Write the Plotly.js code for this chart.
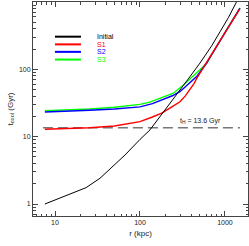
<!DOCTYPE html>
<html>
<head>
<meta charset="utf-8">
<script src="https://cdn.plot.ly/plotly-3.0.1.min.js"></script>
<style>html,body{margin:0;padding:0;background:#fff;}#chart{width:249px;height:246px;}</style>
</head>
<body>
<div id="chart"></div>
<script>
// Data
const seriesNames = ['Initial', 'S1', 'S2', 'S3'];
const seriesColors = ['#000000', '#ff0000', '#0000ff', '#00ff00'];

const rInitial = [7.6, 23.2, 33.8, 48, 66.7, 100, 131, 190, 258, 370, 508, 700, 873, 1100, 1374, 1420];
const tInitial = [1.0, 1.75, 2.41, 3.6, 5.35, 9.1, 12.6, 23.5, 38.6, 72, 124, 225, 360, 590, 1014, 1090];

const rS1 = [7.6, 15, 25.6, 50, 58, 80, 100, 140, 180, 240, 295, 340, 387, 430, 469, 520, 582, 700, 873, 1100, 1422, 1500];
const tS1 = [12.9, 13.2, 13.6, 14.4, 14.8, 15.7, 16.7, 19.6, 22.3, 27.9, 33, 40, 49.4, 61, 74.5, 92, 116, 170, 264, 430, 713, 800];

const rS2 = [7.6, 15, 25.6, 50, 100, 140, 180, 240, 295, 400, 464, 597, 700, 873, 1100, 1422, 1500];
const tS2 = [23.3, 23.9, 24.7, 25.8, 27.7, 31, 35, 40.5, 46.6, 65.7, 78, 120, 167, 266, 430, 718, 810];

const rS3 = [7.6, 15, 25.6, 50, 100, 130, 170, 210, 247, 324, 400, 464, 609, 700, 873, 1100, 1422, 1500];
const tS3 = [24.3, 24.9, 25.8, 27.3, 30.2, 32.6, 37, 40.5, 44.2, 58.6, 74, 87.5, 122, 166, 268, 432, 722, 815];

const tHubble = 13.6;
const rHubbleLine = [7.2, 1500];

const xTickVals = [10, 100, 1000];
const xTickText = ['10', '100', '1000'];
const yTickVals = [1, 10, 100, 1000];
const yTickText = ['1', '10', '100', '1000'];
const xMinor = [6, 7, 8, 9, 20, 30, 40, 50, 60, 70, 80, 90, 200, 300, 400, 500, 600, 700, 800, 900];
const yMinor = [0.7, 0.8, 0.9, 2, 3, 4, 5, 6, 7, 8, 9, 20, 30, 40, 50, 60, 70, 80, 90, 200, 300, 400, 500, 600, 700, 800, 900];

const rs = [rInitial, rS1, rS2, rS3];
const ts = [tInitial, tS1, tS2, tS3];
const widths = [1, 1.4, 1.4, 1.4];

const traces = [];
traces.push({
  x: rHubbleLine, y: rHubbleLine.map(() => tHubble), mode: 'lines',
  line: {color: '#777777', width: 1.5, dash: '10px,5px'}, hoverinfo: 'skip', showlegend: false
});
for (let i = 3; i >= 0; i--) {
  traces.push({
    x: rs[i], y: ts[i], mode: 'lines', name: seriesNames[i],
    line: {color: seriesColors[i], width: widths[i], shape: 'linear'},
    showlegend: false
  });
}

const FONT = 'Liberation Sans, Arial, Helvetica, sans-serif';
const legendRowsY = [0.838, 0.802, 0.767, 0.731];
const shapes = [];
const annotations = [];
seriesNames.forEach((n, i) => {
  shapes.push({type: 'line', xref: 'paper', yref: 'paper', x0: 0.102, x1: 0.223,
    y0: legendRowsY[i], y1: legendRowsY[i], line: {color: seriesColors[i], width: 2}});
  annotations.push({xref: 'paper', yref: 'paper', x: 0.288, y: legendRowsY[i],
    xanchor: 'left', yanchor: 'middle', showarrow: false, text: n,
    font: {family: FONT, size: 7, color: seriesColors[i]}});
});
annotations.push({
  xref: 'x', yref: 'y', x: Math.log10(520), y: Math.log10(tHubble), yanchor: 'bottom', xanchor: 'center',
  yshift: 1, showarrow: false, text: 't<sub>H</sub> = ' + tHubble + ' Gyr',
  font: {family: FONT, size: 7, color: '#222'}
});

const axisCommon = {
  type: 'log', showgrid: false, zeroline: false, showline: true, mirror: 'allticks',
  linecolor: '#444', linewidth: 1, ticks: 'inside', ticklen: 5, tickwidth: 1, tickcolor: '#444',
  tickmode: 'array', tickfont: {family: FONT, size: 7, color: '#222'}
};

const layout = {
  width: 249, height: 246,
  margin: {l: 33, r: 1, t: 2, b: 30, pad: 0},
  paper_bgcolor: '#fff', plot_bgcolor: '#fff',
  showlegend: false,
  xaxis: Object.assign({}, axisCommon, {
    range: [0.741, 3.271], tickvals: xTickVals, ticktext: xTickText,
    minor: {tickmode: 'array', tickvals: xMinor, ticks: 'inside', ticklen: 2.5, tickcolor: '#444', tickwidth: 1},
    title: {text: 'r (kpc)', font: {family: FONT, size: 8, color: '#222'}, standoff: 4}
  }),
  yaxis: Object.assign({}, axisCommon, {
    range: [-0.178, 3.0], tickvals: yTickVals, ticktext: yTickText,
    minor: {tickmode: 'array', tickvals: yMinor, ticks: 'inside', ticklen: 2.5, tickcolor: '#444', tickwidth: 1},
    title: {text: 't<sub>cool</sub> (Gyr)', font: {family: FONT, size: 8, color: '#222'}, standoff: 4}
  }),
  shapes: shapes,
  annotations: annotations
};

Plotly.newPlot('chart', traces, layout, {staticPlot: true, displayModeBar: false});
</script>
</body>
</html>
